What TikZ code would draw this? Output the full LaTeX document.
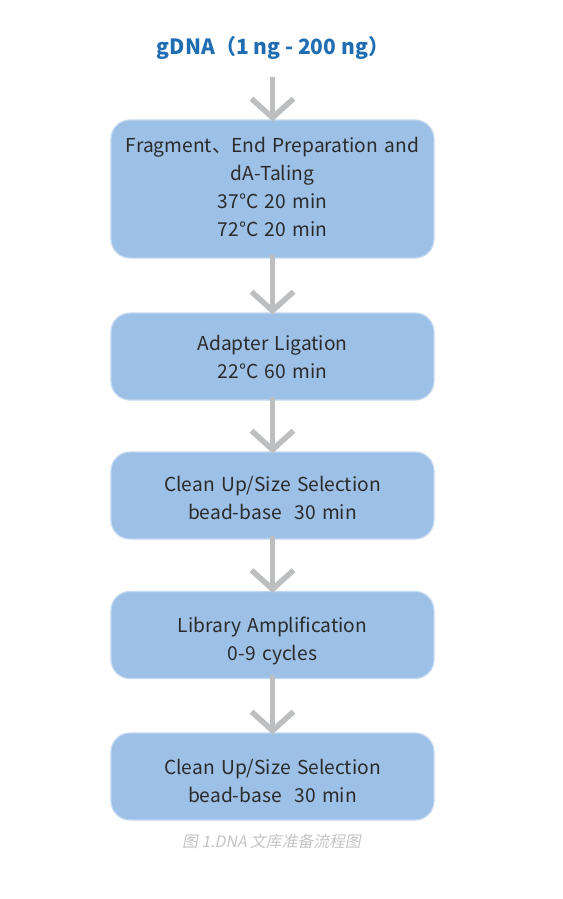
\documentclass[tikz,border=0pt]{standalone}
\usepackage{fontspec}
\setmainfont{Noto Sans CJK SC}
\newfontfamily\capfont[FakeSlant=0.2]{Noto Sans CJK SC}
\usetikzlibrary{arrows.meta}
\definecolor{boxfill}{HTML}{9DC0E6}
\definecolor{boxline}{HTML}{C2D8F0}
\definecolor{titleblue}{HTML}{1F6DB2}
\definecolor{arrowgray}{HTML}{BDBEC0}
\definecolor{capgray}{HTML}{C4C4C4}
\definecolor{textdark}{HTML}{2B2B2B}
\newcommand{\shiftby}[1]{\par\vspace*{#1}}
\begin{document}
\begin{tikzpicture}[x=1pt,y=-1pt,
  stepbox/.style={draw=boxline, line width=1.2pt, fill=boxfill, rounded corners=19pt,
    minimum width=323pt, text width=315pt, align=center, inner sep=0pt,
    font=\fontsize{19.2}{28}\selectfont, text=textdark},
  flow/.style={draw=arrowgray, line width=5.5pt,
    -{Straight Barb[length=19pt,width=42pt,line width=5.5pt]}}]
\useasboundingbox (0,0) rectangle (562,899);
\node[font=\bfseries\fontsize{21}{24}\selectfont, text=titleblue] (title) at (273,48) {gDNA（1 ng - 200 ng）};
\coordinate (t0) at (272.5,77);
\node[stepbox, minimum height=138pt] (b1) at (272.5,189) {Fragment、End Preparation and\\dA-Taling\\37°C 20 min\\72°C 20 min\shiftby{4pt}};
\node[stepbox, minimum height=87pt] (b2) at (272.5,356.5) {Adapter Ligation\\22°C 60 min};
\node[stepbox, minimum height=87pt] (b3) at (272.5,495.5) {Clean Up/Size Selection\\bead-base\ \ 30 min\shiftby{-4pt}};
\node[stepbox, minimum height=87pt] (b4) at (272.5,635) {Library Amplification\\0-9 cycles\shiftby{-12pt}};
\node[stepbox, minimum height=87pt] (b5) at (272.5,776.5) {Clean Up/Size Selection\\bead-base\ \ 30 min\shiftby{-8pt}};
\node[font=\capfont\fontsize{15.8}{18}\selectfont, text=capgray] (cap) at (271.5,841) {图 1.DNA 文库准备流程图};
\draw[flow] (t0) -- ([yshift=-2pt]b1.north);
\draw[flow] ([yshift=4pt]b1.south) -- ([yshift=-2pt]b2.north);
\draw[flow] ([yshift=4pt]b2.south) -- ([yshift=-2pt]b3.north);
\draw[flow] ([yshift=4pt]b3.south) -- ([yshift=-2pt]b4.north);
\draw[flow] ([yshift=4pt]b4.south) -- ([yshift=-2pt]b5.north);
\end{tikzpicture}
\end{document}
